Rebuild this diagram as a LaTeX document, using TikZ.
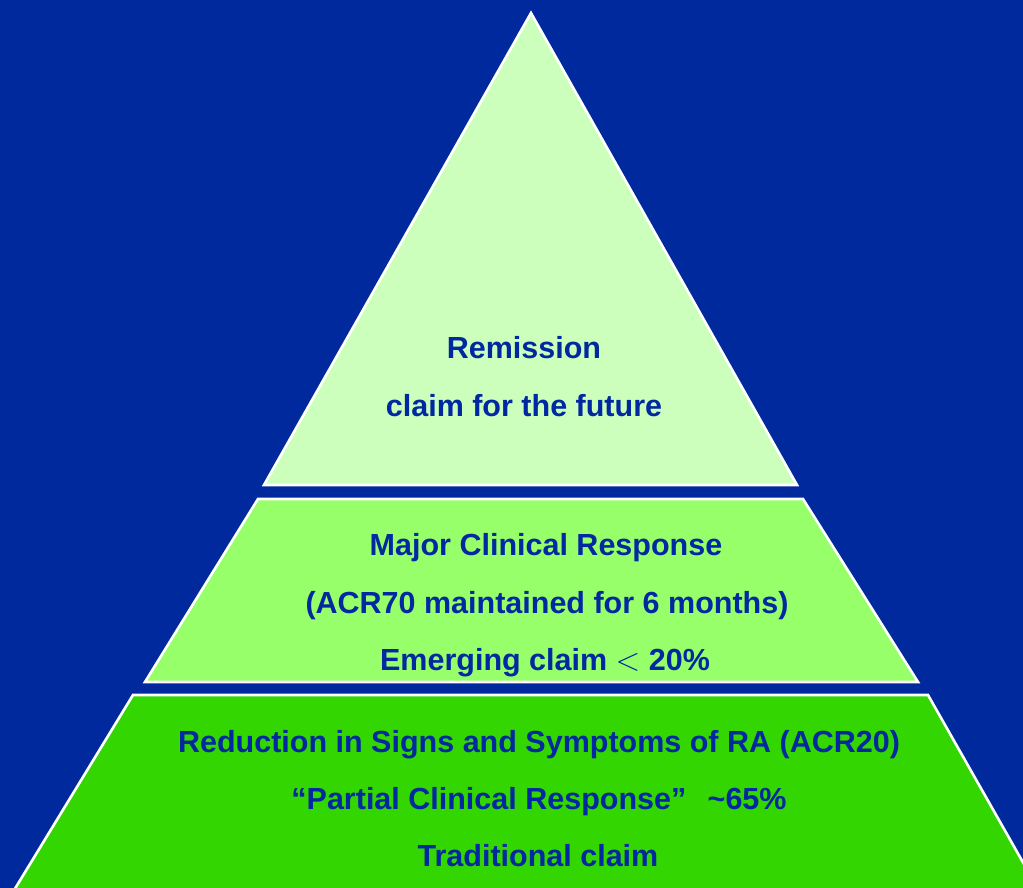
\documentclass[tikz,border=0pt]{standalone}
\usepackage{fontspec}
\setmainfont{Liberation Sans}
\usepackage{tikz}
\definecolor{bgblue}{RGB}{0,41,158}
\definecolor{txtblue}{RGB}{0,40,160}
\definecolor{paleg}{RGB}{204,255,187}
\definecolor{midg}{RGB}{150,255,106}
\definecolor{baseg}{RGB}{51,214,0}
\tikzstyle{Tier}=[draw=white, line width=2.6pt, line join=miter]
\tikzstyle{Label}=[text=txtblue, font=\fontsize{30.5}{36}\selectfont\bfseries, anchor=base, inner sep=0pt]

\begin{document}
\begin{tikzpicture}[x=1pt, y=-1pt]
    \fill[bgblue] (0,0) rectangle (1023,888);
    \useasboundingbox (0,0) rectangle (1023,888);
    \begin{scope}
    \clip (0,0) rectangle (1023,888);
    \draw[Tier, fill=paleg] (531,13) -- (797,485) -- (264,485) -- cycle;
    \draw[Tier, fill=midg] (258,499) -- (803,499) -- (918,682) -- (145,682) -- cycle;
    \draw[Tier, fill=baseg] (133,695) -- (928,695) -- (1050,910) -- (2,910) -- cycle;
    \end{scope}

    \path
    (524,358) node[Label] (rem) {Remission}
    (524,416) node[Label] (future) {claim for the future}
    (546,555) node[Label] (major) {Major Clinical Response}
    (547,613) node[Label] (acr70) {(ACR70 maintained for 6 months)}
    (545,670) node[Label] (emerging) {Emerging claim \scalebox{1.3}{$<$} 20\%}
    (539,752) node[Label] (signs) {Reduction in Signs and Symptoms of RA (ACR20)}
    (539,809) node[Label] (partial) {“Partial Clinical Response”\hspace{0.7em}\textasciitilde65\%}
    (538,866) node[Label] (trad) {Traditional claim};
\end{tikzpicture}
\end{document}
